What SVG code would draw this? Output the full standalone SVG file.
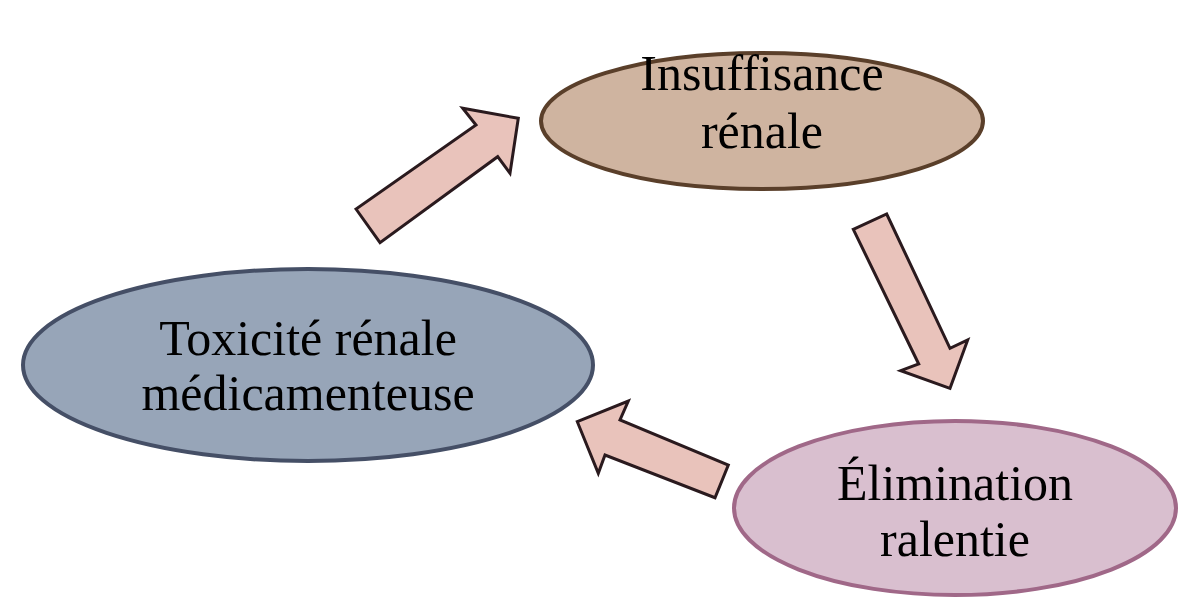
<svg xmlns="http://www.w3.org/2000/svg" width="1191" height="601" viewBox="0 0 1191 601">
<style>
.lbl{font-family:"Liberation Serif","Times New Roman",serif;font-size:50px;fill:#000;text-anchor:middle}
.arr{fill:#e9c3bb;stroke:#2a1a1e;stroke-width:3;stroke-linejoin:miter}
</style>
<rect width="1191" height="601" fill="#fff"/>
<g id="connectors">
<polygon class="arr" points="356,209 380,242.7 497.7,156.7 510,173.3 518.3,118.3 462.7,108.3 476,125"/>
<polygon class="arr" points="853.3,229.3 886.7,214 950,348.3 967.7,340 950,388.3 900.7,370.7 918.7,364"/>
<polygon class="arr" points="577.3,421.7 628.3,401 620,420 728.3,465 715,497.7 605,455 598.3,473.3"/>
</g>
<g id="insuffisance">
<ellipse cx="762" cy="121" rx="221" ry="68" fill="#cfb4a0" stroke="#5a3f2a" stroke-width="4"/>
<text class="lbl" x="762" y="90">Insuffisance</text>
<text class="lbl" x="762" y="148">rénale</text>
</g>
<g id="toxicite">
<ellipse cx="308" cy="365" rx="285" ry="96" fill="#97a5b8" stroke="#454f66" stroke-width="4"/>
<text class="lbl" x="308" y="355">Toxicité rénale</text>
<text class="lbl" x="308" y="410">médicamenteuse</text>
</g>
<g id="elimination">
<ellipse cx="955" cy="508" rx="221" ry="87" fill="#d9bfcf" stroke="#a06888" stroke-width="4"/>
<text class="lbl" x="955" y="500">Élimination</text>
<text class="lbl" x="955" y="556">ralentie</text>
</g>
</svg>
